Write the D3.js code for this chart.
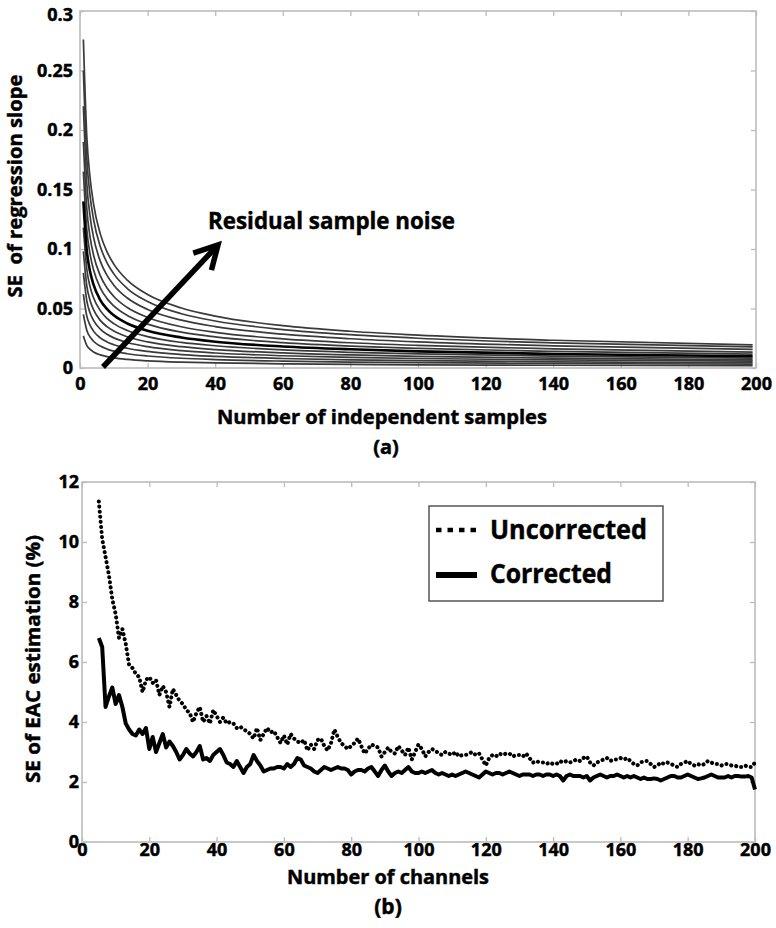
<!DOCTYPE html>
<html>
<head>
<meta charset="utf-8">
<script src="https://cdn.jsdelivr.net/npm/d3@7"></script>
<style>
  html, body { margin: 0; padding: 0; background: #fff; }
  svg { display: block; }
  text { font-family: "Open Sans", "DejaVu Sans", sans-serif; font-weight: 700; fill: #000; stroke: #000; stroke-width: 0.45px; }
</style>
</head>
<body>
<svg id="fig" width="776" height="928"></svg>
<script>
// ---------- Panel (a) data ----------
const samplesN = [1, 2, 3, 4, 6, 8, 10, 14, 20, 30, 40, 60, 80, 100, 140, 199];
const curveA01 = [0.276, 0.1952, 0.1594, 0.138, 0.1127, 0.0976, 0.0873, 0.0738, 0.0617, 0.0504, 0.0436, 0.0356, 0.0309, 0.0276, 0.0233, 0.0195];
const curveA02 = [0.25, 0.1768, 0.1443, 0.125, 0.1021, 0.0884, 0.0791, 0.0668, 0.0559, 0.0456, 0.0395, 0.0323, 0.0280, 0.025, 0.0211, 0.0177];
const curveA03 = [0.22, 0.1556, 0.1270, 0.11, 0.0898, 0.0778, 0.0696, 0.0588, 0.0492, 0.0402, 0.0348, 0.0284, 0.0246, 0.022, 0.0186, 0.0156];
const curveA04 = [0.19, 0.1344, 0.1097, 0.095, 0.0776, 0.0672, 0.0601, 0.0508, 0.0425, 0.0347, 0.0300, 0.0245, 0.0212, 0.019, 0.0161, 0.0134];
const curveA05 = [0.165, 0.1167, 0.0953, 0.0825, 0.0674, 0.0583, 0.0522, 0.0441, 0.0369, 0.0301, 0.0261, 0.0213, 0.0184, 0.0165, 0.0139, 0.0117];
const curveA06 = [0.14, 0.099, 0.0808, 0.07, 0.0571, 0.0495, 0.0443, 0.0374, 0.0313, 0.0256, 0.0221, 0.0181, 0.0157, 0.014, 0.0118, 0.0099];
const curveA07 = [0.118, 0.0834, 0.0681, 0.059, 0.0482, 0.0417, 0.0373, 0.0315, 0.0264, 0.0215, 0.0187, 0.0152, 0.0132, 0.0118, 0.0100, 0.0083];
const curveA08 = [0.098, 0.0693, 0.0566, 0.049, 0.04, 0.0347, 0.031, 0.0262, 0.0219, 0.0179, 0.0155, 0.0127, 0.011, 0.0098, 0.0083, 0.0069];
const curveA09 = [0.08, 0.0566, 0.0462, 0.04, 0.0327, 0.0283, 0.0253, 0.0214, 0.0179, 0.0146, 0.0126, 0.0103, 0.0089, 0.008, 0.0068, 0.0057];
const curveA10 = [0.062, 0.0438, 0.0358, 0.031, 0.0253, 0.0219, 0.0196, 0.0166, 0.0139, 0.0113, 0.0098, 0.008, 0.0069, 0.0062, 0.0052, 0.0044];
const curveA11 = [0.045, 0.0318, 0.026, 0.0225, 0.0184, 0.0159, 0.0142, 0.012, 0.0101, 0.0082, 0.0071, 0.0058, 0.005, 0.0045, 0.0038, 0.0032];
const curveA12 = [0.027, 0.0191, 0.0156, 0.0135, 0.011, 0.0095, 0.0085, 0.0072, 0.006, 0.0049, 0.0043, 0.0035, 0.003, 0.0027, 0.0023, 0.0019];
const curvesA = [curveA01, curveA02, curveA03, curveA04, curveA05, curveA06, curveA07, curveA08, curveA09, curveA10, curveA11, curveA12];
const boldCurveIndex = 5;
const xTicksA = [0, 20, 40, 60, 80, 100, 120, 140, 160, 180, 200];
const yTicksA = [0, 0.05, 0.1, 0.15, 0.2, 0.25, 0.3];
const yTickLabelsA = ["0", "0.05", "0.1", "0.15", "0.2", "0.25", "0.3"];

// ---------- Panel (b) data ----------
const channelsStart = 5, channelsEnd = 200;
const uncorrected = [
  11.35, 10.1, 9.5, 8.9, 8.1, 7.6, 6.8, 7.1, 6.6, 5.9,
  5.8, 5.6, 5.5, 5.0, 5.4, 5.5, 5.3, 5.4, 4.9, 5.2,
  5.0, 4.5, 5.1, 4.9, 4.7, 4.6, 4.4, 4.3, 4.0, 4.3,
  4.5, 4.0, 4.2, 3.95, 4.4, 4.2, 4.0, 4.15, 3.95, 4.0,
  3.95, 3.8, 3.85, 3.75, 3.7, 3.6, 3.45, 3.8, 3.4, 3.6,
  3.8, 3.65, 3.7, 3.5, 3.3, 3.55, 3.25, 3.6, 3.45, 3.35,
  3.3, 3.4, 3.05, 3.25, 3.1, 3.4, 3.45, 3.2, 3.05, 3.3,
  3.75, 3.5, 3.3, 3.2, 3.1, 3.2, 3.3, 3.45, 3.2, 2.95,
  3.1, 3.25, 3.2, 3.15, 2.85, 3.0, 3.15, 3.0, 2.95, 3.2,
  3.05, 2.9, 3.15, 2.75, 3.0, 3.25, 3.1, 2.85, 3.0, 3.1,
  3.05, 2.95, 2.9, 3.0, 2.95, 2.9, 3.0, 2.85, 2.9, 2.9,
  2.95, 3.0, 2.9, 2.95, 2.75, 2.55, 2.8, 2.9, 2.85, 2.95,
  2.9, 2.95, 2.95, 2.85, 2.9, 2.9, 2.85, 2.95, 2.8, 2.65,
  2.7, 2.65, 2.65, 2.6, 2.65, 2.6, 2.6, 2.7, 2.65, 2.7,
  2.65, 2.7, 2.75, 2.7, 2.8, 2.85, 2.65, 2.55, 2.65, 2.7,
  2.75, 2.8, 2.7, 2.75, 2.75, 2.8, 2.75, 2.8, 2.7, 2.6,
  2.55, 2.65, 2.7, 2.7, 2.6, 2.5, 2.55, 2.65, 2.6, 2.65,
  2.6, 2.55, 2.5, 2.6, 2.65, 2.7, 2.6, 2.55, 2.6, 2.55,
  2.6, 2.7, 2.65, 2.6, 2.6, 2.55, 2.6, 2.6, 2.55, 2.55,
  2.5, 2.5, 2.55, 2.5, 2.5, 2.65
];
const corrected = [
  6.8, 6.5, 4.5, 4.85, 5.15, 4.6, 4.9, 4.5, 3.95, 3.75,
  3.6, 3.55, 3.75, 3.6, 3.8, 3.1, 3.5, 3.0, 3.3, 3.6,
  3.15, 3.35, 3.2, 3.0, 2.75, 2.9, 3.1, 2.95, 2.85, 3.0,
  3.2, 2.75, 2.8, 2.7, 2.9, 3.0, 3.1, 2.9, 2.65, 2.6,
  2.5, 2.7, 2.5, 2.3, 2.5, 2.6, 2.9, 2.7, 2.55, 2.35,
  2.4, 2.45, 2.45, 2.5, 2.5, 2.45, 2.6, 2.5, 2.6, 2.8,
  2.75, 2.55, 2.5, 2.45, 2.35, 2.3, 2.4, 2.5, 2.45, 2.4,
  2.45, 2.5, 2.45, 2.45, 2.4, 2.25, 2.35, 2.4, 2.4, 2.35,
  2.45, 2.5, 2.35, 2.2, 2.4, 2.55, 2.35, 2.2, 2.3, 2.35,
  2.3, 2.4, 2.5, 2.35, 2.3, 2.3, 2.35, 2.3, 2.35, 2.4,
  2.3, 2.25, 2.3, 2.25, 2.2, 2.25, 2.2, 2.25, 2.3, 2.35,
  2.3, 2.25, 2.2, 2.15, 2.25, 2.35, 2.3, 2.25, 2.3, 2.3,
  2.25, 2.3, 2.35, 2.3, 2.25, 2.2, 2.25, 2.25, 2.25, 2.2,
  2.25, 2.25, 2.2, 2.25, 2.25, 2.2, 2.25, 2.2, 2.05, 2.2,
  2.25, 2.2, 2.2, 2.2, 2.15, 2.2, 2.05, 2.15, 2.2, 2.25,
  2.2, 2.15, 2.2, 2.2, 2.25, 2.2, 2.15, 2.2, 2.15, 2.2,
  2.15, 2.1, 2.15, 2.1, 2.1, 2.12, 2.1, 2.05, 2.1, 2.15,
  2.2, 2.2, 2.15, 2.15, 2.2, 2.25, 2.2, 2.15, 2.1, 2.12,
  2.15, 2.2, 2.25, 2.2, 2.15, 2.15, 2.15, 2.2, 2.15, 2.2,
  2.2, 2.18, 2.18, 2.2, 2.15, 1.75
];
const channels = d3.range(channelsStart, channelsEnd + 1);
const xTicksB = [0, 20, 40, 60, 80, 100, 120, 140, 160, 180, 200];
const yTicksB = [0, 2, 4, 6, 8, 10, 12];
const legendLabels = ["Uncorrected", "Corrected"];

// ---------- Drawing ----------
const svg = d3.select("#fig");
const frameColor = "#bcbcbc";

function drawFrame(g, x, y, xTicks, yTicks, yFmt, xPad, yPad) {
  const [x0, x1] = x.range();
  const [y0, y1] = y.range();
  const bottom = g.append("g").attr("transform", `translate(0,${y0})`)
    .call(d3.axisBottom(x).tickValues(xTicks).tickSize(-5).tickPadding(xPad).tickFormat(d3.format("d")));
  const top = g.append("g").attr("transform", `translate(0,${y1})`)
    .call(d3.axisTop(x).tickValues(xTicks).tickSize(-5).tickFormat(""));
  const left = g.append("g").attr("transform", `translate(${x0},0)`)
    .call(d3.axisLeft(y).tickValues(yTicks).tickSize(-5).tickPadding(yPad).tickFormat(yFmt));
  const right = g.append("g").attr("transform", `translate(${x1},0)`)
    .call(d3.axisRight(y).tickValues(yTicks).tickSize(-5).tickFormat(""));
  [bottom, top, left, right].forEach(a => {
    a.select(".domain").remove();
    a.selectAll(".tick line").attr("stroke", frameColor).attr("stroke-width", 1.3);
    a.selectAll("text").attr("font-size", 18).attr("font-family", "'Open Sans', sans-serif")
      .attr("font-weight", 700).attr("fill", "#000");
  });
  g.append("rect").attr("x", x0).attr("y", y1).attr("width", x1 - x0).attr("height", y0 - y1)
    .attr("fill", "none").attr("stroke", frameColor).attr("stroke-width", 1.6);
  return left;
}

// Panel (a)
const xA = d3.scaleLinear().domain([0, 200]).range([80, 756]);
const yA = d3.scaleLinear().domain([0, 0.3]).range([368, 11]);
const gA = svg.append("g");
const leftA = drawFrame(gA, xA, yA, xTicksA, yTicksA, (d, i) => yTickLabelsA[i], 9, 7);
// keep the top label fully inside the picture
leftA.selectAll(".tick text").filter(d => d === 0.3).attr("dy", "0.55em");

const lineA = d3.line().x((d, i) => xA(samplesN[i])).y(d => yA(d)).curve(d3.curveMonotoneX);
curvesA.forEach((c, k) => {
  if (k === boldCurveIndex) return;
  gA.append("path").attr("d", lineA(c)).attr("fill", "none")
    .attr("stroke", "#3a3a3a").attr("stroke-width", 1.7);
});
gA.append("path").attr("d", lineA(curvesA[boldCurveIndex])).attr("fill", "none")
  .attr("stroke", "#000").attr("stroke-width", 2.6);

// arrow
const tail = [103, 367], tip = [218, 245];
const ang = Math.atan2(tip[1] - tail[1], tip[0] - tail[0]);
const headLen = 26, headAng = 0.5;
const arm = s => [tip[0] - headLen * Math.cos(ang + s * headAng), tip[1] - headLen * Math.sin(ang + s * headAng)];
gA.append("line").attr("x1", tail[0]).attr("y1", tail[1]).attr("x2", tip[0] - 3 * Math.cos(ang)).attr("y2", tip[1] - 3 * Math.sin(ang))
  .attr("stroke", "#000").attr("stroke-width", 5.5);
gA.append("path").attr("d", `M${arm(1)}L${tip}L${arm(-1)}`).attr("fill", "none")
  .attr("stroke", "#000").attr("stroke-width", 5.5).attr("stroke-linejoin", "miter");
gA.append("text").attr("x", 208).attr("y", 229).attr("font-size", 24)
  .attr("textLength", 247).attr("lengthAdjust", "spacingAndGlyphs").text("Residual sample noise");

gA.append("text").attr("transform", "translate(22,186) rotate(-90)").attr("text-anchor", "middle")
  .attr("font-size", 19).attr("textLength", 223).attr("lengthAdjust", "spacingAndGlyphs")
  .attr("xml:space", "preserve").text("SE  of regression slope");
gA.append("text").attr("x", 382).attr("y", 424).attr("text-anchor", "middle").attr("font-size", 19)
  .attr("textLength", 330).attr("lengthAdjust", "spacingAndGlyphs").text("Number of independent samples");
gA.append("text").attr("x", 386).attr("y", 454).attr("text-anchor", "middle").attr("font-size", 20)
  .attr("font-family", "'Liberation Sans', Arial, sans-serif").attr("font-weight", 700).text("(a)");

// Panel (b)
const xB = d3.scaleLinear().domain([0, 200]).range([82, 755]);
const yB = d3.scaleLinear().domain([0, 12]).range([842, 482]);
const gB = svg.append("g");
drawFrame(gB, xB, yB, xTicksB, yTicksB, d3.format("d"), 1, 3);

const lineB = d3.line().x((d, i) => xB(channels[i])).y(d => yB(d));
gB.append("path").attr("d", lineB(uncorrected)).attr("fill", "none").attr("stroke", "#000")
  .attr("stroke-width", 4).attr("stroke-linecap", "round").attr("stroke-dasharray", "0.1 5");
gB.append("path").attr("d", lineB(corrected)).attr("fill", "none").attr("stroke", "#000")
  .attr("stroke-width", 4).attr("stroke-linejoin", "round");

// legend
const lg = gB.append("g");
lg.append("rect").attr("x", 429).attr("y", 506).attr("width", 234).attr("height", 95)
  .attr("fill", "#fff").attr("stroke", "#555").attr("stroke-width", 1.5);
lg.append("line").attr("x1", 436).attr("x2", 478).attr("y1", 530).attr("y2", 530)
  .attr("stroke", "#000").attr("stroke-width", 4.5).attr("stroke-dasharray", "5.5 6");
lg.append("line").attr("x1", 436).attr("x2", 477).attr("y1", 575).attr("y2", 575)
  .attr("stroke", "#000").attr("stroke-width", 6);
lg.append("text").attr("x", 490).attr("y", 539).attr("font-size", 26)
  .attr("textLength", 157).attr("lengthAdjust", "spacingAndGlyphs").text(legendLabels[0]);
lg.append("text").attr("x", 490).attr("y", 583).attr("font-size", 26)
  .attr("textLength", 122).attr("lengthAdjust", "spacingAndGlyphs").text(legendLabels[1]);

gB.append("text").attr("transform", "translate(40,659) rotate(-90)").attr("text-anchor", "middle")
  .attr("font-size", 19).attr("textLength", 248).attr("lengthAdjust", "spacingAndGlyphs")
  .text("SE of EAC estimation (%)");
gB.append("text").attr("x", 388).attr("y", 884).attr("text-anchor", "middle").attr("font-size", 19)
  .attr("textLength", 202).attr("lengthAdjust", "spacingAndGlyphs").text("Number of channels");
gB.append("text").attr("x", 388).attr("y", 914).attr("text-anchor", "middle").attr("font-size", 21)
  .text("(b)");
</script>
</body>
</html>
